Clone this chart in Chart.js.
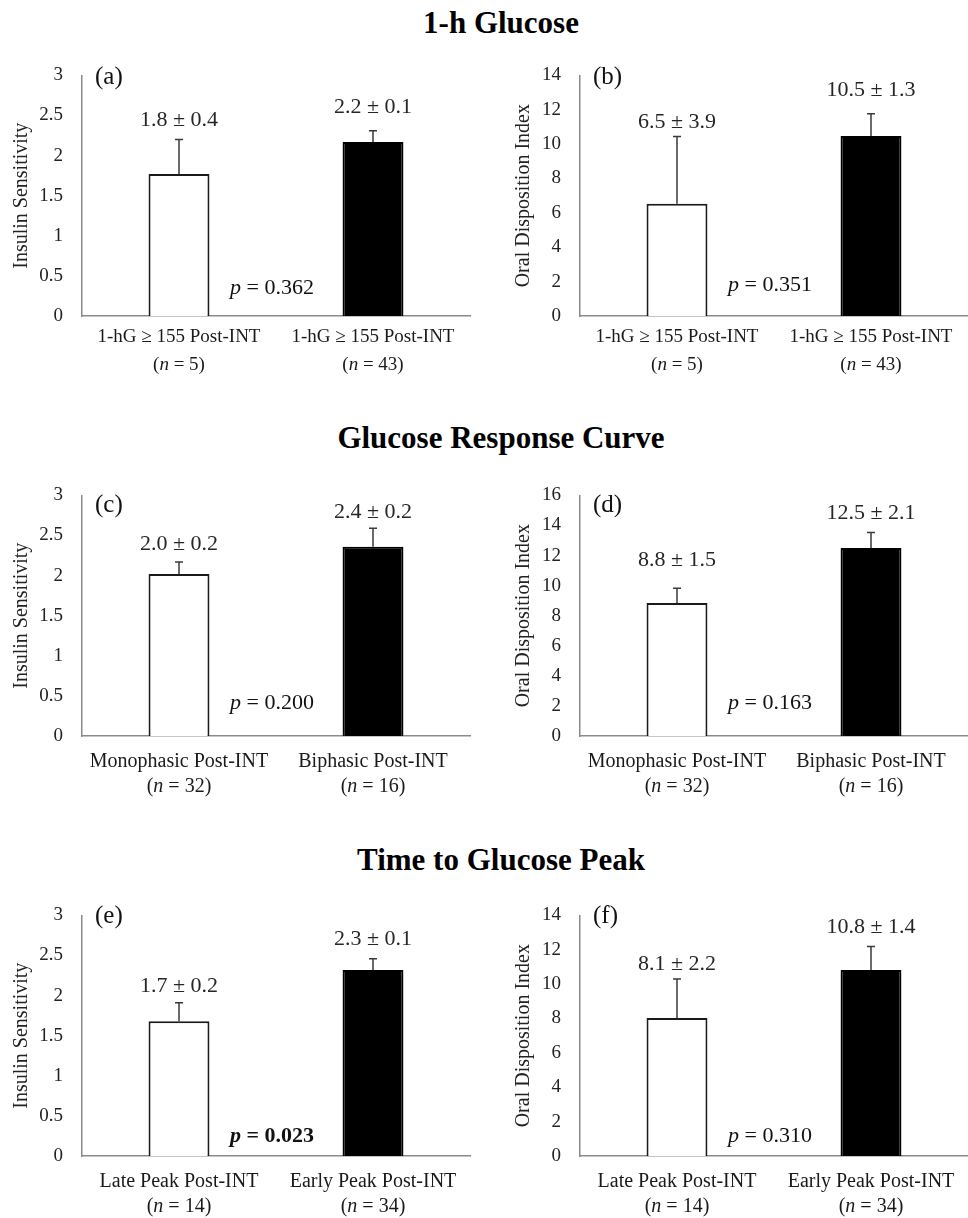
<!DOCTYPE html>
<html>
<head>
<meta charset="utf-8">
<script src="https://cdn.jsdelivr.net/npm/chart.js@4.4.1/dist/chart.umd.min.js"></script>
<style>
  body { margin: 0; background: #fff; width: 968px; height: 1218px; position: relative; overflow: hidden; }
  .title { position: absolute; left: 501px; transform: translateX(-50%); font-family: 'Liberation Serif', serif;
           font-weight: bold; font-size: 31px; line-height: 31px; white-space: nowrap; color: #000; }
  canvas { position: absolute; }
</style>
</head>
<body>
<div class="title" style="top:7px">1-h Glucose</div>
<div class="title" style="top:422px">Glucose Response Curve</div>
<div class="title" style="top:844px">Time to Glucose Peak</div>

<canvas id="chart-a" width="480" height="355" style="left:0;top:45px"></canvas>
<canvas id="chart-b" width="484" height="355" style="left:484px;top:45px"></canvas>
<canvas id="chart-c" width="480" height="355" style="left:0;top:465px"></canvas>
<canvas id="chart-d" width="484" height="355" style="left:484px;top:465px"></canvas>
<canvas id="chart-e" width="480" height="355" style="left:0;top:885px"></canvas>
<canvas id="chart-f" width="484" height="355" style="left:484px;top:885px"></canvas>

<script>
// groups and sizes
const groups1h = ['1-hG ≥ 155 Post-INT', '1-hG ≥ 155 Post-INT'];
const n1h = [5, 43];
const groupsCurve = ['Monophasic Post-INT', 'Biphasic Post-INT'];
const nCurve = [32, 16];
const groupsPeak = ['Late Peak Post-INT', 'Early Peak Post-INT'];
const nPeak = [14, 34];

// insulin sensitivity (mean, error)
const si1h = [1.77, 2.17];
const siErr1h = [0.43, 0.14];
const siCurve = [2.02, 2.36];
const siErrCurve = [0.15, 0.23];
const siPeak = [1.68, 2.32];
const siErrPeak = [0.23, 0.14];

// oral disposition index (mean, error)
const odi1h = [6.53, 10.48];
const odiErr1h = [3.91, 1.29];
const odiCurve = [8.84, 12.5];
const odiErrCurve = [0.99, 1.04];
const odiPeak = [8.03, 10.83];
const odiErrPeak = [2.27, 1.36];

// printed labels
const siText1h = ['1.8 ± 0.4', '2.2 ± 0.1'];
const odiText1h = ['6.5 ± 3.9', '10.5 ± 1.3'];
const siTextCurve = ['2.0 ± 0.2', '2.4 ± 0.2'];
const odiTextCurve = ['8.8 ± 1.5', '12.5 ± 2.1'];
const siTextPeak = ['1.7 ± 0.2', '2.3 ± 0.1'];
const odiTextPeak = ['8.1 ± 2.2', '10.8 ± 1.4'];
const pValues = ['0.362', '0.351', '0.200', '0.163', '0.023', '0.310'];

// tick labels
const siTicks = [0, 0.5, 1, 1.5, 2, 2.5, 3];
const odiTicks14 = [0, 2, 4, 6, 8, 10, 12, 14];
const odiTicks16 = [0, 2, 4, 6, 8, 10, 12, 14, 16];

const SERIF = "'Liberation Serif', 'Times New Roman', serif";

// draws a line of text made of parts (italic / bold), centred on cx
function drawRich(ctx, parts, cx, cy, size) {
    const fontOf = p => (p.i ? 'italic ' : '') + (p.b ? 'bold ' : '') + size + 'px ' + SERIF;
    let total = 0;
    parts.forEach(p => { ctx.font = fontOf(p); total += ctx.measureText(p.t).width; });
    let x = cx - total / 2;
    ctx.textAlign = 'left';
    ctx.textBaseline = 'middle';
    parts.forEach(p => {
        ctx.font = fontOf(p);
        ctx.fillText(p.t, x, cy);
        x += ctx.measureText(p.t).width;
    });
}

function makePanel(cfg) {
    const right = cfg.side === 'right';
    const extras = {
        id: 'extras',
        afterDatasetsDraw(chart) {
            const ctx = chart.ctx;
            const xs = chart.scales.x, ys = chart.scales.y;
            const area = chart.chartArea;
            const bars = chart.getDatasetMeta(0).data;
            ctx.save();

            // error bars (upper only)
            ctx.strokeStyle = '#3a3a3a';
            ctx.lineWidth = 1.5;
            bars.forEach((bar, i) => {
                const top = ys.getPixelForValue(cfg.means[i] + cfg.errs[i]);
                ctx.beginPath();
                ctx.moveTo(bar.x, bar.y);
                ctx.lineTo(bar.x, top);
                ctx.moveTo(bar.x - 4, top);
                ctx.lineTo(bar.x + 4, top);
                ctx.stroke();
            });

            // mean ± error labels
            ctx.fillStyle = '#262626';
            bars.forEach((bar, i) => {
                const top = ys.getPixelForValue(cfg.means[i] + cfg.errs[i]);
                drawRich(ctx, [{ t: cfg.texts[i] }], bar.x, top - cfg.labelLift[i], 22);
            });

            // category labels
            ctx.fillStyle = '#1a1a1a';
            cfg.groups.forEach((g, i) => {
                const cx = xs.getPixelForValue(i);
                const y1 = area.bottom + cfg.row.line1;
                drawRich(ctx, [{ t: g }], cx, y1, cfg.row.font);
                drawRich(ctx, [{ t: '(' }, { t: 'n', i: true }, { t: ' = ' + cfg.n[i] + ')' }],
                    cx, y1 + cfg.row.spacing, cfg.row.font);
            });

            // p value
            ctx.fillStyle = '#111';
            const b = !!cfg.bold;
            drawRich(ctx, [{ t: 'p', i: true, b: b }, { t: ' = ' + cfg.p, b: b }],
                (area.left + area.right) / 2 - 4, area.bottom - cfg.pLift, 22);

            // panel letter
            ctx.fillStyle = '#111';
            ctx.font = '25px ' + SERIF;
            ctx.textAlign = 'left';
            ctx.textBaseline = 'middle';
            ctx.fillText('(' + cfg.letter + ')', area.left + 13, area.top + cfg.row.letterDy);
            ctx.restore();
        }
    };

    new Chart(document.getElementById(cfg.id), {
        type: 'bar',
        data: {
            labels: cfg.groups,
            datasets: [{
                data: cfg.means,
                backgroundColor: ['#ffffff', '#000000'],
                borderColor: ['#1a1a1a', '#000000'],
                borderWidth: 2,
                categoryPercentage: 1,
                barPercentage: 0.314
            }]
        },
        options: {
            responsive: false,
            animation: false,
            devicePixelRatio: 1,
            layout: { padding: { top: 18, right: right ? 0 : 10, left: 0, bottom: 0 } },
            plugins: { legend: { display: false }, tooltip: { enabled: false } },
            scales: {
                x: {
                    grid: { display: false, drawTicks: false },
                    border: { display: true, color: '#8a8a8a', width: 1.5 },
                    ticks: { display: false },
                    afterFit: s => { s.height = 84; }
                },
                y: {
                    min: cfg.ticks[0],
                    max: cfg.ticks[cfg.ticks.length - 1],
                    grid: { display: false, drawTicks: false },
                    border: { display: true, color: '#8a8a8a', width: 1.5 },
                    ticks: {
                        stepSize: cfg.ticks[1] - cfg.ticks[0],
                        padding: 19,
                        color: '#222',
                        font: { family: SERIF, size: 19 },
                        callback: v => String(v)
                    },
                    title: {
                        display: true,
                        text: cfg.yTitle,
                        color: '#222',
                        font: { family: SERIF, size: 20 },
                        padding: { top: right ? 28 : 10, bottom: 0 }
                    },
                    afterFit: s => { s.width = right ? 96 : 82; }
                }
            }
        },
        plugins: [extras]
    });
}

const rows = [
    { line1: 21, spacing: 28, font: 19, letterDy: 2 },
    { line1: 25.5, spacing: 25, font: 20, letterDy: 10 },
    { line1: 25.5, spacing: 25, font: 20, letterDy: 1 }
];

makePanel({ id: 'chart-a', side: 'left', letter: 'a', row: rows[0], groups: groups1h, n: n1h,
    means: si1h, errs: siErr1h, texts: siText1h, ticks: siTicks, yTitle: 'Insulin Sensitivity',
    p: pValues[0], pLift: 28, labelLift: [19, 24] });
makePanel({ id: 'chart-b', side: 'right', letter: 'b', row: rows[0], groups: groups1h, n: n1h,
    means: odi1h, errs: odiErr1h, texts: odiText1h, ticks: odiTicks14, yTitle: 'Oral Disposition Index',
    p: pValues[1], pLift: 31, labelLift: [14, 24] });
makePanel({ id: 'chart-c', side: 'left', letter: 'c', row: rows[1], groups: groupsCurve, n: nCurve,
    means: siCurve, errs: siErrCurve, texts: siTextCurve, ticks: siTicks, yTitle: 'Insulin Sensitivity',
    p: pValues[2], pLift: 33, labelLift: [18, 16] });
makePanel({ id: 'chart-d', side: 'right', letter: 'd', row: rows[1], groups: groupsCurve, n: nCurve,
    means: odiCurve, errs: odiErrCurve, texts: odiTextCurve, ticks: odiTicks16, yTitle: 'Oral Disposition Index',
    p: pValues[3], pLift: 33, labelLift: [28, 19] });
makePanel({ id: 'chart-e', side: 'left', letter: 'e', row: rows[2], groups: groupsPeak, n: nPeak,
    means: siPeak, errs: siErrPeak, texts: siTextPeak, ticks: siTicks, yTitle: 'Insulin Sensitivity',
    p: pValues[4], pLift: 20, labelLift: [17, 19], bold: true });
makePanel({ id: 'chart-f', side: 'right', letter: 'f', row: rows[2], groups: groupsPeak, n: nPeak,
    means: odiPeak, errs: odiErrPeak, texts: odiTextPeak, ticks: odiTicks14, yTitle: 'Oral Disposition Index',
    p: pValues[5], pLift: 20, labelLift: [15, 19] });
</script>
</body>
</html>
